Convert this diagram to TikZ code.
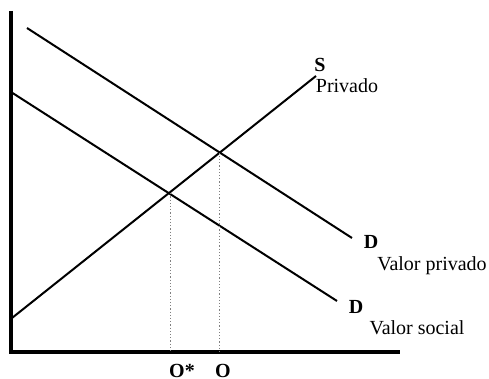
\documentclass[tikz,border=0pt]{standalone}
\usepackage{fontspec}
\setmainfont{Liberation Serif}
\usetikzlibrary{intersections}

\begin{document}
\begin{tikzpicture}[x=0.5pt, y=-0.5pt,
    axis/.style={line width=1.6pt},
    curve/.style={line width=1pt},
    guide/.style={densely dotted, gray, line width=0.6pt},
    lbl/.style={inner sep=0pt, font=\fontsize{10}{12}\selectfont}]
    \useasboundingbox (0,0) rectangle (489,379);

    % Axes
    \coordinate (top) at (11,11);
    \coordinate (origin) at (11,352);
    \coordinate (right) at (400,352);
    \draw[axis] (top) -- (origin) -- (right);

    % Supply and demand curves
    \coordinate (s0) at (12,318);
    \coordinate (s1) at (316,76);
    \coordinate (dp0) at (27,28);
    \coordinate (dp1) at (352,238);
    \coordinate (ds0) at (11,92);
    \coordinate (ds1) at (337,301);
    \draw[curve, name path=supply] (s0) -- (s1);
    \draw[curve, name path=dpriv] (dp0) -- (dp1);
    \draw[curve, name path=dsoc] (ds0) -- (ds1);

    % Equilibria
    \path[name intersections={of=supply and dpriv, by=eq}];
    \path[name intersections={of=supply and dsoc, by=eqs}];
    \draw[guide] (eq) -- (eq |- origin);
    \draw[guide] ([xshift=1pt]eqs) -- ([xshift=1pt]eqs |- origin);

    % Labels
    \node[lbl] (sLab) at (320,65) {\textbf{S}};
    \node[lbl] (sPriv) at (347,86) {Privado};
    \node[lbl] (dpLab) at (371,242) {\textbf{D}};
    \node[lbl] (dpVal) at (432,266) {Valor privado};
    \node[lbl] (dsLab) at (356,307) {\textbf{D}};
    \node[lbl] (dsVal) at (417,328) {Valor social};
    \node[lbl] (qs) at (182,371) {\textbf{O*}};
    \node[lbl] (q) at (223,371) {\textbf{O}};
\end{tikzpicture}
\end{document}
